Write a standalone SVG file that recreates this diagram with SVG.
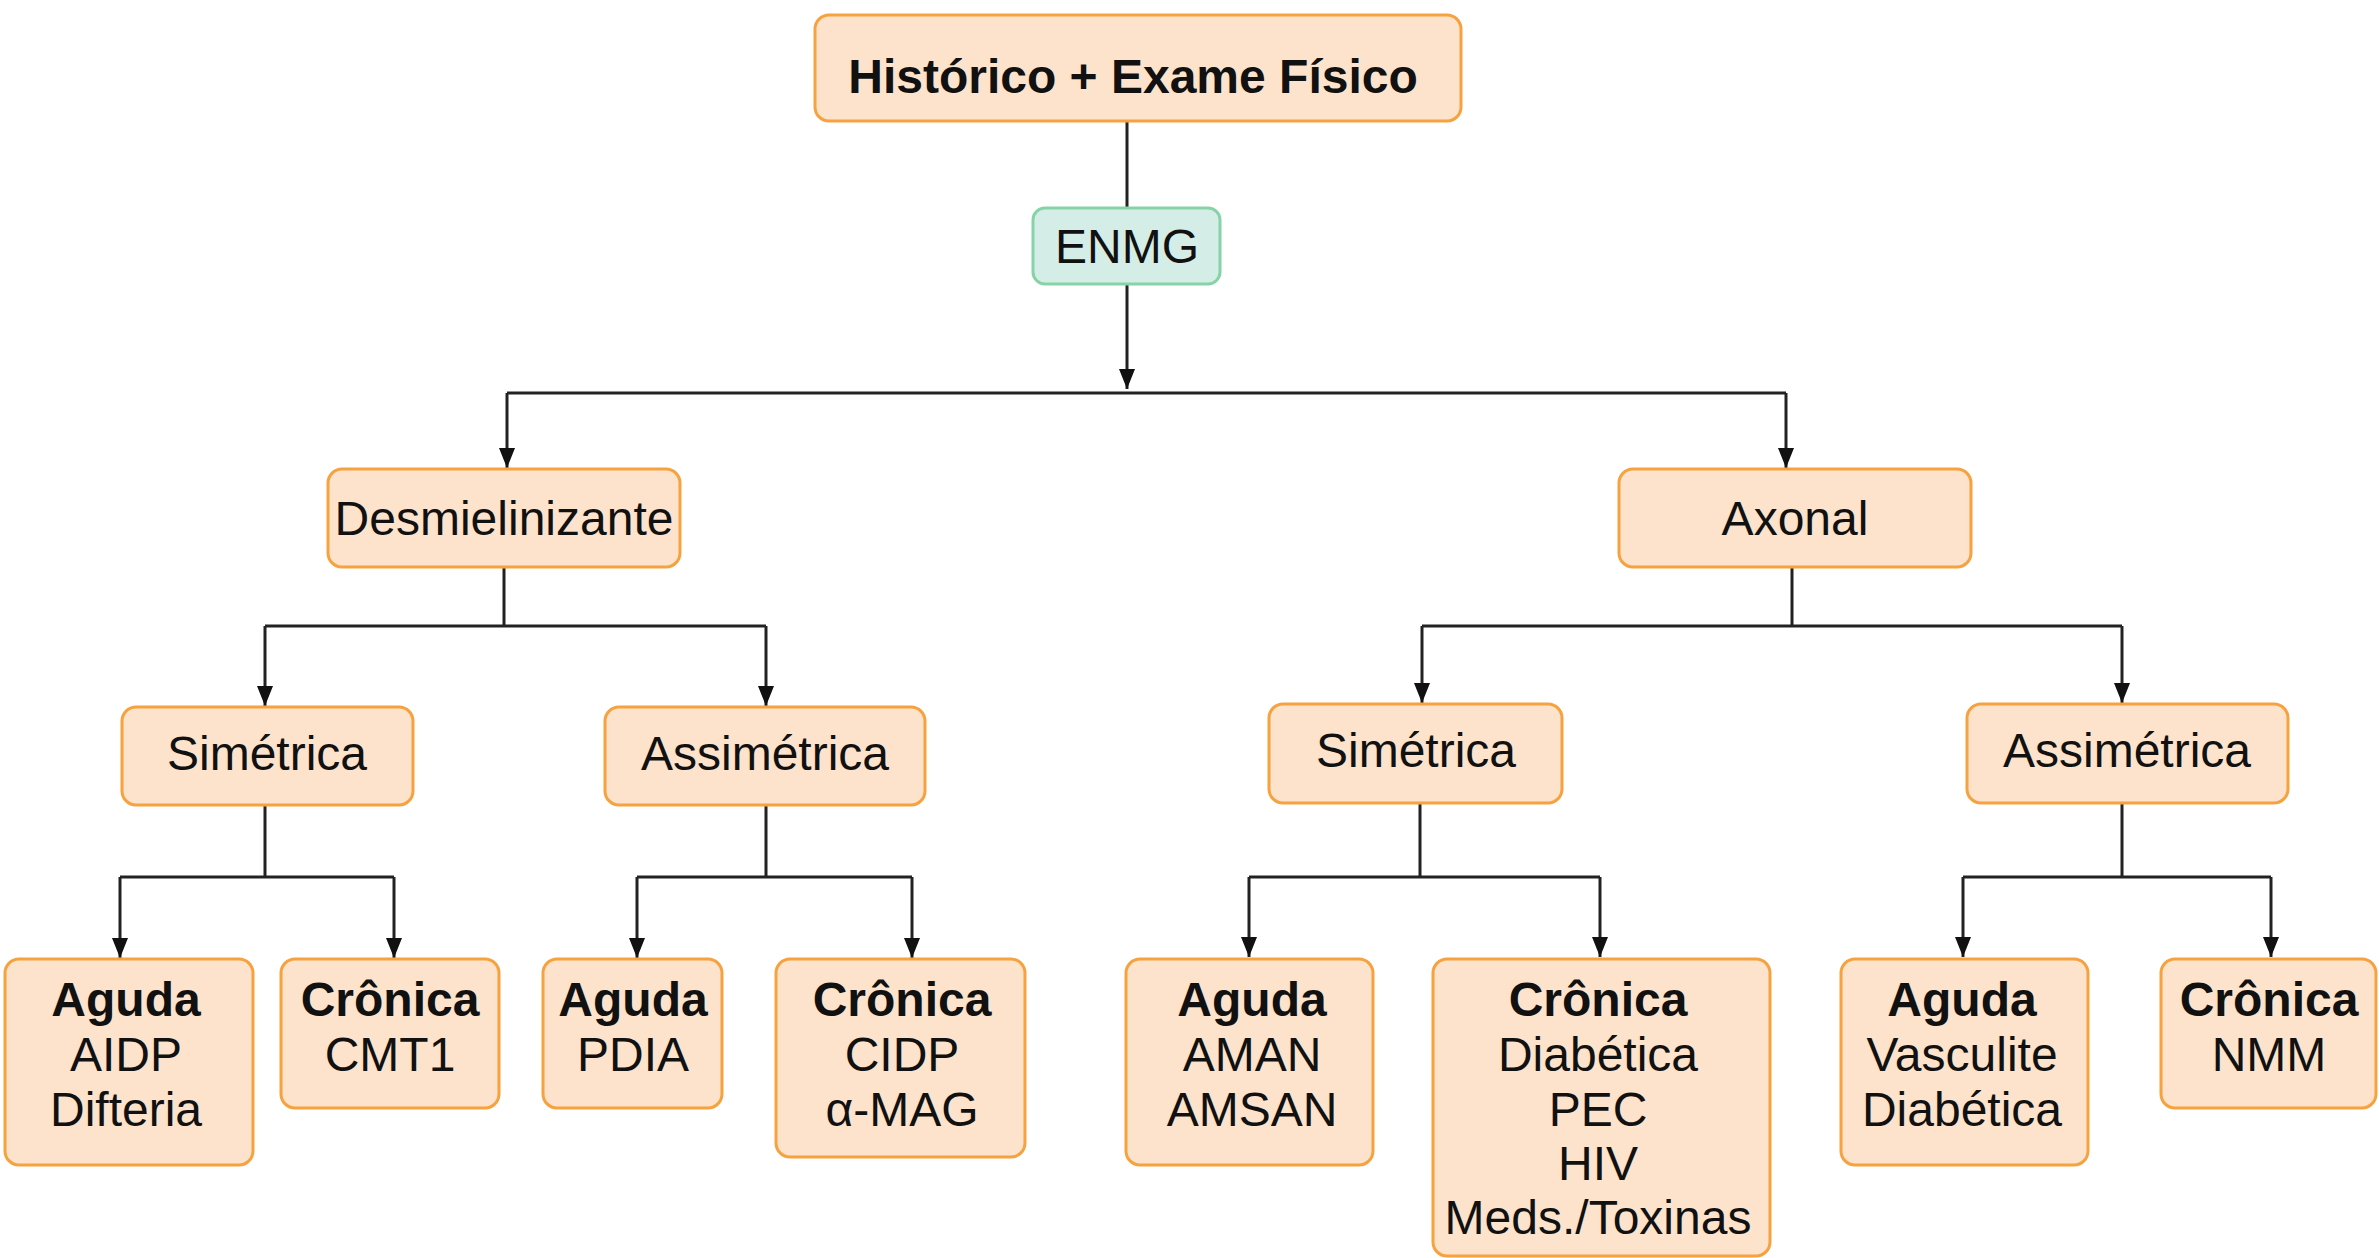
<svg xmlns="http://www.w3.org/2000/svg" width="2379" height="1258" viewBox="0 0 2379 1258">
<defs>
<style>
.box{fill:#fde3cb;stroke:#f6a23f;stroke-width:3}
.gbox{fill:#d4ede6;stroke:#86d3a8;stroke-width:3}
text{font-family:"Liberation Sans",Arial,Helvetica,sans-serif;font-size:48px;fill:#111;text-anchor:middle}
.b{font-weight:bold}
.c{fill:none;stroke:#222;stroke-width:3}
</style>
<marker id="arr" viewBox="0 0 20 20" refX="20" refY="10" markerWidth="20" markerHeight="20" orient="auto" markerUnits="userSpaceOnUse">
<path d="M0,2 L20,10 L0,18 Z" fill="#111"/>
</marker>
</defs>
<rect width="2379" height="1258" fill="#fff"/>

<g id="connectors">
<path class="c" d="M1127,121 V208"/>
<path class="c" d="M1127,284 V389" marker-end="url(#arr)"/>
<path class="c" d="M507,393 H1786"/>
<path class="c" d="M507,393 V468" marker-end="url(#arr)"/>
<path class="c" d="M1786,393 V468" marker-end="url(#arr)"/>
<path class="c" d="M504,567 V626 M265,626 H766"/>
<path class="c" d="M265,626 V706" marker-end="url(#arr)"/>
<path class="c" d="M766,626 V706" marker-end="url(#arr)"/>
<path class="c" d="M1792,567 V626 M1422,626 H2122"/>
<path class="c" d="M1422,626 V703" marker-end="url(#arr)"/>
<path class="c" d="M2122,626 V703" marker-end="url(#arr)"/>
<path class="c" d="M265,805 V877 M120,877 H394"/>
<path class="c" d="M120,877 V958" marker-end="url(#arr)"/>
<path class="c" d="M394,877 V958" marker-end="url(#arr)"/>
<path class="c" d="M766,805 V877 M637,877 H912"/>
<path class="c" d="M637,877 V958" marker-end="url(#arr)"/>
<path class="c" d="M912,877 V958" marker-end="url(#arr)"/>
<path class="c" d="M1420,803 V877 M1249,877 H1600"/>
<path class="c" d="M1249,877 V957" marker-end="url(#arr)"/>
<path class="c" d="M1600,877 V957" marker-end="url(#arr)"/>
<path class="c" d="M2122,803 V877 M1963,877 H2271"/>
<path class="c" d="M1963,877 V957" marker-end="url(#arr)"/>
<path class="c" d="M2271,877 V957" marker-end="url(#arr)"/>
</g>

<g id="n-historico">
<rect class="box" x="815" y="15" width="646" height="106" rx="14"/>
<text class="b" x="1133" y="93">Histórico + Exame Físico</text>
</g>
<g id="n-enmg">
<rect class="gbox" x="1033" y="208" width="187" height="76" rx="12"/>
<text x="1127" y="263">ENMG</text>
</g>
<g id="n-desm">
<rect class="box" x="328" y="469" width="352" height="98" rx="14"/>
<text x="504" y="535">Desmielinizante</text>
</g>
<g id="n-axonal">
<rect class="box" x="1619" y="469" width="352" height="98" rx="14"/>
<text x="1795" y="535">Axonal</text>
</g>
<g id="n-sim-d">
<rect class="box" x="122" y="707" width="291" height="98" rx="14"/>
<text x="267" y="770">Simétrica</text>
</g>
<g id="n-assim-d">
<rect class="box" x="605" y="707" width="320" height="98" rx="14"/>
<text x="765" y="770">Assimétrica</text>
</g>
<g id="n-sim-a">
<rect class="box" x="1269" y="704" width="293" height="99" rx="14"/>
<text x="1416" y="767">Simétrica</text>
</g>
<g id="n-assim-a">
<rect class="box" x="1967" y="704" width="321" height="99" rx="14"/>
<text x="2127" y="767">Assimétrica</text>
</g>

<g id="n-leaf1">
<rect class="box" x="5" y="959" width="248" height="206" rx="14"/>
<text class="b" x="126" y="1016">Aguda</text>
<text x="126" y="1071">AIDP</text>
<text x="126" y="1126">Difteria</text>
</g>
<g id="n-leaf2">
<rect class="box" x="281" y="959" width="218" height="149" rx="14"/>
<text class="b" x="390" y="1016">Crônica</text>
<text x="390" y="1071">CMT1</text>
</g>
<g id="n-leaf3">
<rect class="box" x="543" y="959" width="179" height="149" rx="14"/>
<text class="b" x="633" y="1016">Aguda</text>
<text x="633" y="1071">PDIA</text>
</g>
<g id="n-leaf4">
<rect class="box" x="776" y="959" width="249" height="198" rx="14"/>
<text class="b" x="902" y="1016">Crônica</text>
<text x="902" y="1071">CIDP</text>
<text x="902" y="1126">α-MAG</text>
</g>
<g id="n-leaf5">
<rect class="box" x="1126" y="959" width="247" height="206" rx="14"/>
<text class="b" x="1252" y="1016">Aguda</text>
<text x="1252" y="1071">AMAN</text>
<text x="1252" y="1126">AMSAN</text>
</g>
<g id="n-leaf6">
<rect class="box" x="1433" y="959" width="337" height="297" rx="14"/>
<text class="b" x="1598" y="1016">Crônica</text>
<text x="1598" y="1071">Diabética</text>
<text x="1598" y="1126">PEC</text>
<text x="1598" y="1180">HIV</text>
<text x="1598" y="1234">Meds./Toxinas</text>
</g>
<g id="n-leaf7">
<rect class="box" x="1841" y="959" width="247" height="206" rx="14"/>
<text class="b" x="1962" y="1016">Aguda</text>
<text x="1962" y="1071">Vasculite</text>
<text x="1962" y="1126">Diabética</text>
</g>
<g id="n-leaf8">
<rect class="box" x="2161" y="959" width="215" height="149" rx="14"/>
<text class="b" x="2269" y="1016">Crônica</text>
<text x="2269" y="1071">NMM</text>
</g>
</svg>
